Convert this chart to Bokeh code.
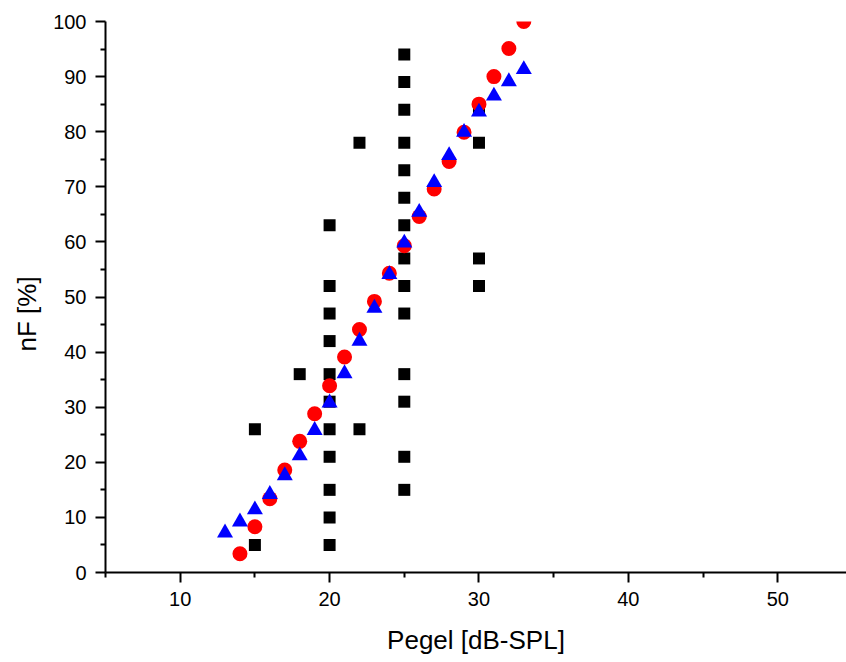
from bokeh.plotting import figure
from bokeh.models import Range1d, FixedTicker, Title
from bokeh.embed import file_html
from bokeh.resources import INLINE

# Black squares (individual measurements)
sq_x = [15, 15, 18,
        20, 20, 20, 20, 20, 20, 20, 20, 20, 20, 20,
        22, 22,
        25, 25, 25, 25, 25, 25, 25, 25, 25, 25, 25, 25, 25, 25,
        30, 30, 30, 30]
sq_y = [26, 5, 36,
        63, 52, 47, 42, 36, 31, 26, 21, 15, 10, 5,
        78, 26,
        94, 89, 84, 78, 73, 68, 63, 57, 52, 47, 36, 31, 21, 15,
        84, 78, 57, 52]

# Red circles
circ_x = [14, 15, 16, 17, 18, 19, 20, 21, 22, 23, 24, 25, 26, 27, 28, 29, 30, 31, 32, 33]
circ_y = [3.4, 8.3, 13.4, 18.6, 23.8, 28.8, 33.9, 39.1, 44.1, 49.2,
          54.3, 59.3, 64.6, 69.6, 74.6, 79.9, 85.0, 90.0, 95.1, 100.0]

# Blue triangles
tri_x = [13, 14, 15, 16, 17, 18, 19, 20, 21, 22, 23, 24, 25, 26, 27, 28, 29, 30, 31, 32, 33]
tri_y = [7.2, 9.2, 11.4, 14.2, 17.6, 21.2, 25.8, 30.8, 36.1, 42.0,
         48.0, 54.1, 59.8, 65.4, 70.8, 75.7, 79.9, 83.6, 86.5, 89.1, 91.3]

x_major = [10, 20, 30, 40, 50]
x_minor = [5, 15, 25, 35, 45, 55]
y_major = [0, 10, 20, 30, 40, 50, 60, 70, 80, 90, 100]
y_minor = [5, 15, 25, 35, 45, 55, 65, 75, 85, 95]

x_title = "Pegel [dB-SPL]"
y_title = "nF [%]"

FONT = "Liberation Sans"

p = figure(width=846, height=662, output_backend="svg", toolbar_location=None,
           x_range=Range1d(5, 54.6), y_range=Range1d(0, 100),
           min_border_left=105, min_border_right=0, min_border_top=21, min_border_bottom=90,
           frame_width=741, frame_height=551)
p.outline_line_color = None
p.background_fill_color = "white"
p.border_fill_color = "white"
p.xgrid.visible = False
p.ygrid.visible = False

p.scatter(sq_x, sq_y, marker="square", size=12, fill_color="black", line_color="black", line_width=0)
p.scatter(circ_x, circ_y, marker="circle", size=15, fill_color="#ff0000", line_color="#ff0000", line_width=0)
p.scatter(tri_x, tri_y, marker="triangle", size=16, fill_color="#0000ff", line_color="#0000ff", line_width=0)

p.xaxis.ticker = FixedTicker(ticks=x_major, minor_ticks=x_minor)
p.yaxis.ticker = FixedTicker(ticks=y_major, minor_ticks=y_minor)
p.xaxis.axis_label = x_title

for ax in (p.xaxis, p.yaxis):
    ax.axis_line_width = 2
    ax.axis_line_color = "black"
    ax.major_tick_line_width = 2
    ax.minor_tick_line_width = 2
    ax.major_tick_line_color = "black"
    ax.minor_tick_line_color = "black"
    ax.major_tick_out = 10
    ax.major_tick_in = 0
    ax.minor_tick_out = 5
    ax.minor_tick_in = 0
    ax.major_label_text_font = FONT
    ax.major_label_text_font_size = "20px"
    ax.major_label_text_color = "black"
    ax.axis_label_text_font = FONT
    ax.axis_label_text_font_size = "26px"
    ax.axis_label_text_font_style = "normal"
    ax.axis_label_text_color = "black"

p.xaxis.major_label_standoff = 9
p.yaxis.major_label_standoff = 9
p.xaxis.axis_label_standoff = 16

# y-axis title as a side title, placed a little below the frame's centre
ytitle = Title(text=y_title, align="left", offset=221, standoff=17,
               text_font=FONT, text_font_size="26px", text_font_style="normal",
               text_color="black")
p.add_layout(ytitle, "left")

open("out.html", "w").write(file_html(p, INLINE))
